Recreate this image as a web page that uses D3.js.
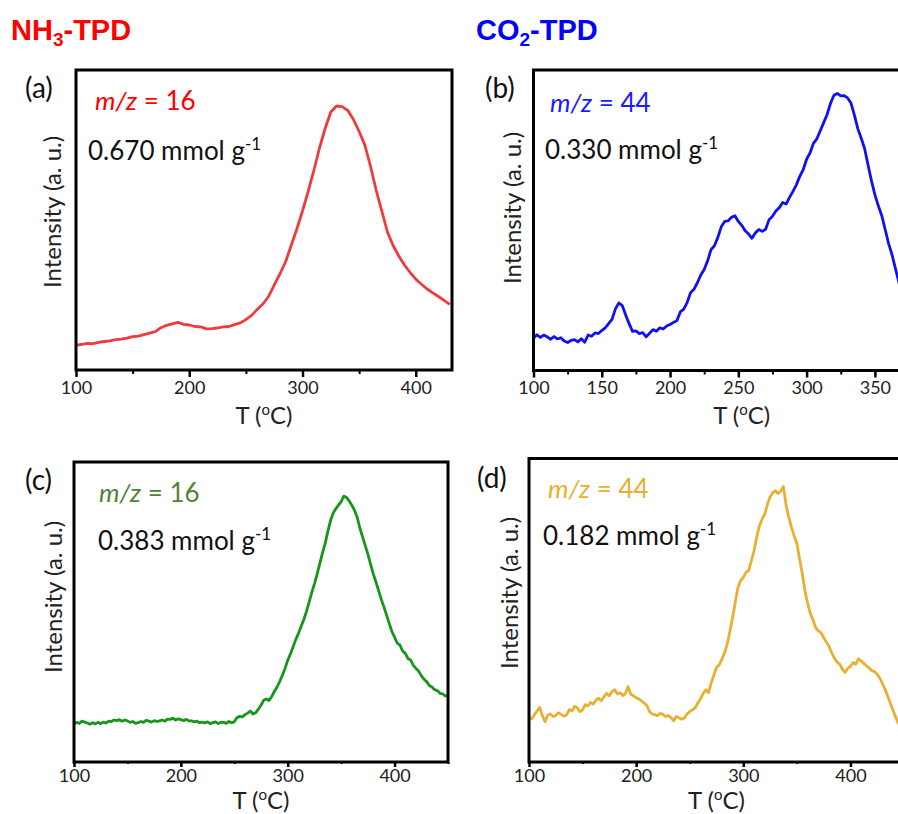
<!DOCTYPE html>
<html>
<head>
<meta charset="utf-8">
<script src="https://cdn.jsdelivr.net/npm/d3@7/dist/d3.min.js"></script>
<style>
  html, body { margin: 0; padding: 0; background: #fff; }
  svg { display: block; }
  text { font-family: Lato, "Open Sans", sans-serif; }
</style>
</head>
<body>
<svg id="chart" width="898" height="814"></svg>
<script>
// TPD desorption profiles (intensity in arbitrary units, % of panel height)

// (a) NH3-TPD, m/z = 16, sampled every 5 °C from 100 °C
const intensityA = [
  8.3, 8.5, 8.9, 8.8, 9.2, 9.5, 9.7, 10.1, 10.3, 10.6,
  11.1, 11.3, 11.8, 12.3, 12.8, 14.1, 14.9, 15.4, 15.9, 15.2,
  15.0, 14.5, 14.4, 13.7, 13.8, 14.0, 14.4, 14.5, 15.1, 15.7,
  16.8, 18.2, 20.2, 22.0, 24.5, 28.3, 32.0, 36.0, 41.5, 47.0,
  53.0, 59.5, 66.5, 74.0, 80.5, 86.0, 88.0, 87.8, 86.5, 83.5,
  79.5, 75.0, 68.0, 60.0, 53.0, 46.0, 41.5, 38.0, 35.0, 32.5,
  30.3, 28.6, 27.0, 25.7, 24.5, 23.2, 21.9
];

// (b) CO2-TPD, m/z = 44, sampled every 2.5 °C from 100 °C
const intensityB = [
  10.7, 11.9, 11.0, 11.8, 11.2, 10.4, 11.3, 10.5, 10.9, 9.8,
  9.3, 10.0, 10.3, 9.5, 10.6, 9.4, 11.8, 11.4, 12.5, 12.3,
  13.3, 14.2, 15.6, 17.0, 20.5, 22.5, 21.6, 18.5, 15.6, 13.0,
  13.2, 12.3, 12.6, 11.2, 12.4, 13.6, 13.1, 14.2, 13.8, 14.8,
  15.3, 16.0, 16.6, 19.5, 20.4, 22.6, 25.9, 27.0, 29.2, 31.8,
  33.6, 36.5, 40.2, 41.5, 44.3, 47.8, 49.6, 49.8, 51.0, 51.5,
  49.6, 48.3, 46.5, 45.4, 44.0, 45.8, 46.9, 46.3, 47.0, 50.2,
  51.3, 53.1, 54.2, 55.9, 55.4, 57.6, 59.6, 61.8, 64.6, 66.8,
  70.3, 72.4, 75.6, 77.1, 79.8, 82.5, 85.2, 88.9, 91.6, 92.2,
  91.4, 91.5, 90.7, 89.0, 85.0, 80.5, 77.3, 73.8, 68.4, 63.1,
  58.5, 54.8, 51.6, 47.0, 42.3, 38.6, 34.0, 29.5, 25.0, 21.0,
  17.0
];

// (c) NH3-TPD, m/z = 16, sampled every 2.5 °C from 100 °C
const intensityC = [
  12.6, 13.2, 12.9, 13.6, 13.3, 13.0, 12.6, 13.1, 12.7, 13.2,
  12.8, 13.3, 13.0, 13.6, 13.5, 14.0, 13.8, 14.1, 13.6, 14.0,
  13.7, 13.2, 13.5, 12.9, 13.1, 13.5, 13.2, 13.9, 13.6, 13.3,
  13.8, 13.5, 13.7, 14.0, 13.6, 14.3, 14.2, 14.6, 14.0, 14.4,
  14.1, 13.8, 14.2, 13.7, 13.7, 13.4, 13.6, 13.1, 13.3, 13.0,
  13.4, 12.8, 13.1, 13.4, 12.8, 13.3, 13.2, 12.9, 13.5, 13.1,
  13.4, 14.8, 15.2, 15.0, 15.8, 16.3, 17.0, 16.0, 16.4, 17.6,
  18.9, 20.6, 21.0, 20.5, 21.8, 23.5, 25.0, 26.8, 28.9, 31.2,
  33.9, 36.0, 38.3, 40.8, 42.8, 45.2, 47.4, 50.1, 53.3, 56.5,
  59.4, 62.6, 66.1, 69.6, 72.8, 76.8, 80.4, 82.9, 84.4, 85.6,
  86.8, 88.6, 88.2, 87.0, 85.6, 83.9, 81.6, 78.0, 75.1, 72.2,
  69.3, 66.0, 62.8, 60.1, 57.2, 54.3, 51.7, 49.0, 46.2, 43.5,
  41.6, 39.6, 39.0, 37.0, 36.2, 34.5, 34.0, 32.2, 31.2, 30.3,
  28.8, 27.6, 26.8, 25.5, 25.0, 24.1, 23.8, 22.9, 22.7, 22.0,
  22.3
];

// (d) CO2-TPD, m/z = 44, sampled every 2.5 °C from 100 °C
const intensityD = [
  14.8, 14.2, 15.6, 16.8, 18.0, 15.2, 13.3, 15.5, 15.8, 15.0,
  15.3, 16.2, 15.7, 15.1, 15.5, 17.2, 16.8, 18.3, 17.9, 16.6,
  17.2, 18.9, 18.5, 19.6, 19.1, 20.4, 21.0, 20.2, 21.5, 22.6,
  21.8, 23.2, 23.8, 22.4, 22.8, 21.9, 22.6, 24.8, 22.3, 21.8,
  21.2, 20.8, 20.1, 19.4, 18.6, 16.6, 15.8, 15.6, 15.3, 16.0,
  15.7, 15.0, 15.3, 14.6, 13.6, 15.0, 14.6, 14.1, 14.5, 15.8,
  16.6, 17.2, 17.8, 19.4, 20.7, 22.5, 23.8, 22.8, 26.0, 28.6,
  31.2, 32.0, 33.8, 36.0, 38.8, 43.0, 47.5, 52.6, 57.5, 59.8,
  60.8, 62.5, 63.1, 66.2, 69.6, 74.0, 77.8, 80.0, 81.7, 84.9,
  87.3, 88.7, 89.4, 88.5, 89.2, 90.8, 84.5, 80.6, 77.3, 74.5,
  72.1, 67.0, 62.3, 56.5, 52.4, 49.0, 46.9, 44.3, 43.2, 42.6,
  41.0, 39.5, 38.1, 36.0, 34.2, 33.0, 32.2, 30.6, 29.5, 30.8,
  31.5, 32.8, 32.2, 34.0, 33.3, 32.5, 31.7, 31.0, 30.1, 29.8,
  28.9, 27.6, 25.7, 23.8, 21.5, 19.1, 16.8, 14.5, 12.5
];

// Axis tick values per panel
const ticksA = [100, 200, 300, 400];
const ticksB = [100, 150, 200, 250, 300, 350];
const ticksC = [100, 200, 300, 400];
const ticksD = [100, 200, 300, 400];

const panels = [
  { id: "a", label: "(a)", values: intensityA, step: 5, domain: [100, 432], ticks: ticksA, minor: 50,
    box: { left: 76, top: 70, right: 452, bottom: 370 }, tick: 7, pad: 4, xTitleY: 424,
    color: "#ef3b3b", tagColor: "#ff0000", mz: "16", amount: "0.670",
    labelPos: [25, 98], mzPos: [95, 110], amtPos: [88, 160], yTitle: [61, 212] },
  { id: "b", label: "(b)", values: intensityB, step: 2.5, domain: [100, 405], ticks: ticksB, minor: 25,
    box: { left: 533.5, top: 70, right: 950, bottom: 370.5 }, tick: 7, pad: 4, xTitleY: 424,
    color: "#1010f5", tagColor: "#1a1aff", mz: "44", amount: "0.330",
    labelPos: [485, 98], mzPos: [550, 112], amtPos: [545, 159], yTitle: [521, 208] },
  { id: "c", label: "(c)", values: intensityC, step: 2.5, domain: [100, 450], ticks: ticksC, minor: 50,
    box: { left: 74, top: 462, right: 448, bottom: 762 }, tick: 5, pad: 2, xTitleY: 809,
    color: "#16961a", tagColor: "#548235", mz: "16", amount: "0.383",
    labelPos: [25, 490], mzPos: [99, 502], amtPos: [98, 550], yTitle: [62, 597] },
  { id: "d", label: "(d)", values: intensityD, step: 2.5, domain: [100, 450], ticks: ticksD, minor: 50,
    box: { left: 529, top: 458.5, right: 904, bottom: 762 }, tick: 5, pad: 2, xTitleY: 809,
    color: "#e8b030", tagColor: "#e8b030", mz: "44", amount: "0.182",
    labelPos: [477, 488], mzPos: [548, 498], amtPos: [543, 545], yTitle: [518, 593] }
];

const svg = d3.select("#chart");

// Section headings
function heading(x, text, sub, rest, color) {
  const h = svg.append("text").attr("x", x).attr("y", 40)
    .attr("fill", color).style("font-family", "'Liberation Sans', Arial, sans-serif")
    .style("font-weight", "bold").style("font-size", "29px");
  h.append("tspan").text(text);
  h.append("tspan").attr("dy", 6).style("font-size", "19px").text(sub);
  h.append("tspan").attr("dy", -6).text(rest);
}
heading(11, "NH", "3", "-TPD", "#ff0000");
heading(476, "CO", "2", "-TPD", "#0000ff");

panels.forEach(p => {
  const b = p.box;
  const x = d3.scaleLinear().domain(p.domain).range([b.left, b.right]);
  const y = d3.scaleLinear().domain([0, 100]).range([b.bottom, b.top]);
  const pts = p.values.map((v, i) => [100 + i * p.step, v]);

  const g = svg.append("g");

  g.append("clipPath").attr("id", "clip-" + p.id)
    .append("rect").attr("x", b.left).attr("y", b.top)
    .attr("width", b.right - b.left).attr("height", b.bottom - b.top);

  const line = d3.line().x(d => x(d[0])).y(d => y(d[1]));
  g.append("path").datum(pts)
    .attr("clip-path", "url(#clip-" + p.id + ")")
    .attr("fill", "none").attr("stroke", p.color)
    .attr("stroke-width", 2.8).attr("stroke-linejoin", "round")
    .attr("d", line);

  // minor ticks
  const minorVals = d3.range(p.domain[0], p.domain[1] + 0.001, p.minor)
    .filter(t => !p.ticks.includes(t));
  g.append("g").attr("transform", `translate(0,${b.bottom})`)
    .call(d3.axisBottom(x).tickValues(minorVals).tickSize(p.tick - 3).tickFormat(""))
    .call(s => s.select(".domain").remove())
    .call(s => s.selectAll("line").attr("stroke", "#000").attr("stroke-width", 2));

  // major ticks
  g.append("g").attr("transform", `translate(0,${b.bottom})`)
    .call(d3.axisBottom(x).tickValues(p.ticks).tickSize(p.tick).tickPadding(p.pad).tickFormat(d3.format("d")))
    .call(s => s.select(".domain").remove())
    .call(s => s.selectAll("line").attr("stroke", "#000").attr("stroke-width", 2.5))
    .call(s => s.selectAll("text").attr("fill", "#222")
      .style("font-family", "Lato, sans-serif").style("font-size", "18px"));

  // frame
  g.append("rect").attr("x", b.left).attr("y", b.top)
    .attr("width", b.right - b.left).attr("height", b.bottom - b.top)
    .attr("fill", "none").attr("stroke", "#000").attr("stroke-width", 3);

  // panel letter
  g.append("text").attr("x", p.labelPos[0]).attr("y", p.labelPos[1])
    .attr("fill", "#111").style("font-size", "28px").text(p.label);

  // m/z tag
  const mz = g.append("text").attr("x", p.mzPos[0]).attr("y", p.mzPos[1])
    .attr("fill", p.tagColor).style("font-size", "26px");
  mz.append("tspan").style("font-style", "italic").text("m/z");
  mz.append("tspan").text(" = " + p.mz);

  // uptake amount
  const am = g.append("text").attr("x", p.amtPos[0]).attr("y", p.amtPos[1])
    .attr("fill", "#111").style("font-size", "26px");
  am.append("tspan").text(p.amount + " mmol g");
  am.append("tspan").attr("dy", -10).style("font-size", "17px").text("-1");

  // axis titles
  g.append("text")
    .attr("transform", `translate(${p.yTitle[0]},${p.yTitle[1]}) rotate(-90)`)
    .attr("text-anchor", "middle").attr("fill", "#222").style("font-size", "24px")
    .text("Intensity (a. u.)");

  const xt = g.append("text").attr("x", (b.left + b.right) / 2).attr("y", p.xTitleY)
    .attr("text-anchor", "middle").attr("fill", "#222").style("font-size", "24px");
  xt.append("tspan").text("T (");
  xt.append("tspan").attr("dy", -9).style("font-size", "15px").text("o");
  xt.append("tspan").attr("dy", 9).text("C)");
});
</script>
</body>
</html>
